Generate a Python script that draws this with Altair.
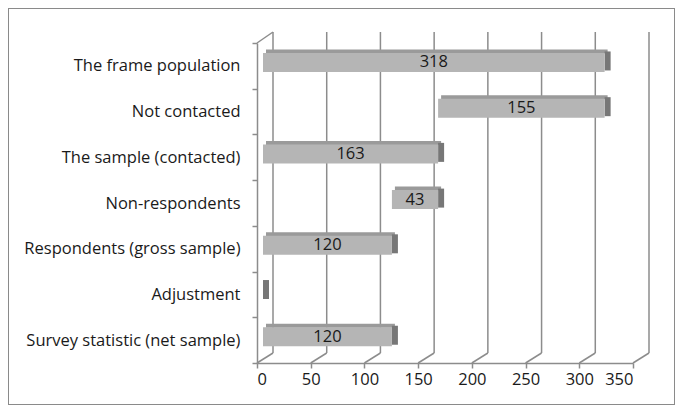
import altair as alt
import pandas as pd

categories = ["The frame population\u00a0", "Not contacted", "The sample (contacted)",
              "Non-respondents", "Respondents (gross sample)", "Adjustment\u00a0",
              "Survey statistic (net sample)"]
starts = [0, 163, 0, 120, 0, 0, 0]
values = [318, 155, 163, 43, 120, 0, 120]
labels = ["318", "155", "163", "43", "120", "", "120"]
x_ticks = [0, 50, 100, 150, 200, 250, 300, 350]

df = pd.DataFrame({"cat": categories, "start": starts, "value": values, "label": labels})
df["end"] = df["start"] + df["value"]
df["mid"] = (df["start"] + df["end"]) / 2
grid = pd.DataFrame({"t": x_ticks})

FONT = "Open Sans"
FS = 16.5
W, H = 376, 320
PL, PT, PR, PB = 249, 35, 42, 42

xs = alt.Scale(domain=[0, 350], nice=False, zero=False)
ys = alt.Scale(domain=categories, paddingInner=0, paddingOuter=0)

base = alt.Chart(df)

border = alt.Chart(df).mark_rect(fill=None, stroke="#8a8a8a", strokeWidth=1).encode(
    x=alt.value(-PL + 0.5), x2=alt.value(W + PR - 0.5),
    y=alt.value(-PT + 0.5), y2=alt.value(H + PB - 0.5))

back_grid = alt.Chart(grid).mark_rule(color="#8c8c8c", strokeWidth=1.5, xOffset=16).encode(
    x=alt.X("t:Q", scale=xs, axis=alt.Axis(values=x_ticks, tickSize=5, labelPadding=3,
                                             labelFontSize=FS, labelFont=FONT, labelColor="#1a1a1a",
                                             domainColor="#8c8c8c", tickColor="#8c8c8c",
                                             domainWidth=1.5, tickWidth=1.5, grid=False, title=None)),
    y=alt.value(-11), y2=alt.value(H - 10))

floor_diag = alt.Chart(grid).mark_rule(color="#8c8c8c", strokeWidth=1.5, x2Offset=16).encode(
    x=alt.X("t:Q", scale=xs), x2="t:Q",
    y=alt.value(H), y2=alt.value(H - 10))

wall_diag = alt.Chart(grid).transform_filter("datum.t == 0").mark_rule(
    color="#8c8c8c", strokeWidth=1.5, x2Offset=16).encode(
    x=alt.X("t:Q", scale=xs), x2="t:Q",
    y=alt.value(0), y2=alt.value(-11))

yenc = alt.Y("cat:N", scale=ys, sort=categories,
             axis=alt.Axis(tickBand="extent", tickSize=5, labelPadding=12, labelFontSize=FS,
                           labelFont=FONT, labelColor="#1a1a1a", domainColor="#8c8c8c",
                           tickColor="#8c8c8c", domainWidth=1.5, tickWidth=1.5, title=None,
                           labelLimit=300, grid=False))

top_face = base.mark_bar(color="#9a9a9a", height=4, yOffset=-14.4, xOffset=9, x2Offset=9).encode(
    x=alt.X("start:Q", scale=xs), x2="end:Q", y=yenc)

side_face = base.mark_bar(color="#777777", height=19, yOffset=-4.9, xOffset=6, x2Offset=12).encode(
    x=alt.X("end:Q", scale=xs), x2="end:Q", y=yenc)

front_face = base.transform_filter("datum.value > 0").mark_bar(
    color="#b5b5b5", height=19, yOffset=-3.4, xOffset=6, x2Offset=6).encode(
    x=alt.X("start:Q", scale=xs), x2="end:Q", y=yenc)

text = base.mark_text(font=FONT, fontSize=FS, color="#1a1a1a", xOffset=6, yOffset=-3.4,
                      baseline="middle").encode(
    x=alt.X("mid:Q", scale=xs), y=yenc, text="label:N")

chart = alt.layer(border, back_grid, floor_diag, wall_diag, top_face, side_face, front_face, text).properties(
    width=W, height=H,
    background="white",
    autosize=alt.AutoSizeParams(type="none"),
    padding={"left": PL, "top": PT, "right": PR, "bottom": PB},
).configure_view(strokeWidth=0)

chart.save("out.html", embed_options={"renderer": "svg", "actions": False})
